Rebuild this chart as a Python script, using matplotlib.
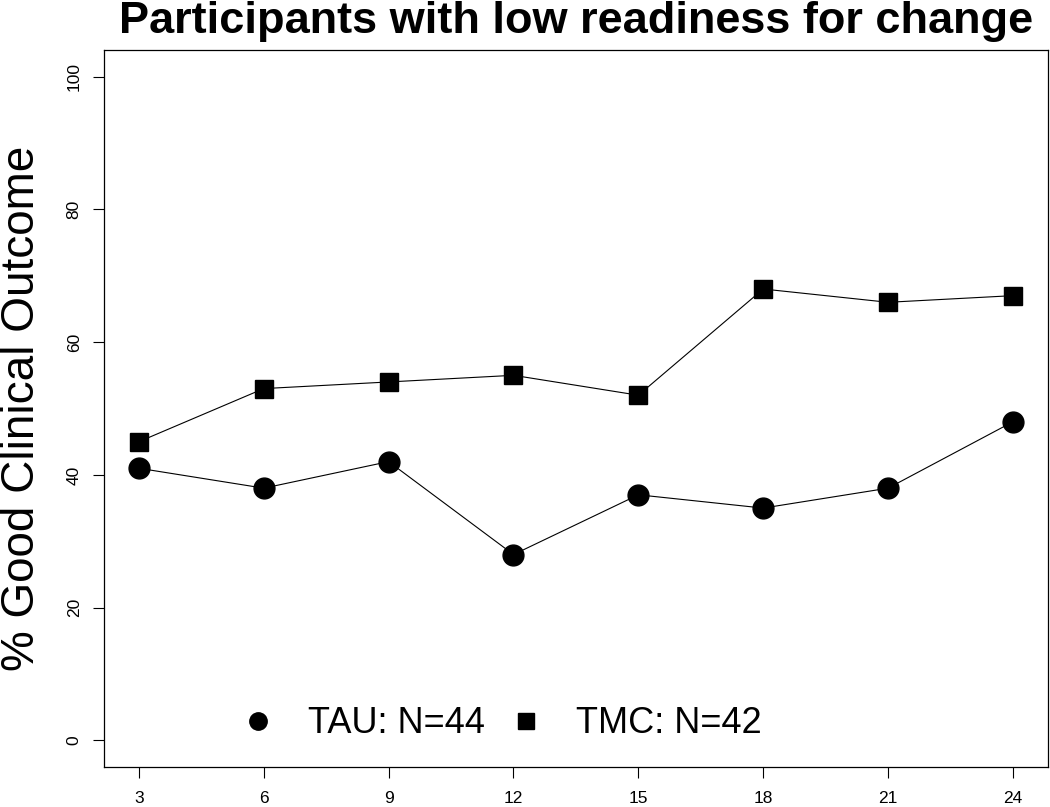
import matplotlib
matplotlib.use("Agg")
import matplotlib.pyplot as plt
from matplotlib.lines import Line2D

months = [3, 6, 9, 12, 15, 18, 21, 24]
tau = [41, 38, 42, 28, 37, 35, 38, 48]
tmc = [45, 53, 54, 55, 52, 68, 66, 67]
y_ticks = [0, 20, 40, 60, 80, 100]

plt.rcParams['font.family'] = ['Liberation Sans', 'DejaVu Sans']

fig = plt.figure(figsize=(10.5, 8.07), dpi=100)
ax = fig.add_axes([0.099, 0.0496, 0.899, 0.8884])

ax.plot(months, tau, color='black', lw=0.8, marker='o', ms=15)
ax.plot(months, tmc, color='black', lw=0.8, marker='s', ms=13.5)

ax.set_xlim(3 - 0.84, 24 + 0.84)
ax.set_ylim(-4, 104)
ax.set_xticks(months)
ax.set_yticks(y_ticks)
ax.tick_params(axis='both', length=8, width=0.8, labelsize=12.5, direction='out')
ax.tick_params(axis='x', pad=9)
ax.tick_params(axis='y', pad=8)
for lab in ax.get_yticklabels():
    lab.set_rotation(90)
    lab.set_va('center')
for s in ax.spines.values():
    s.set_linewidth(0.9)

ax.set_ylabel('% Good Clinical Outcome', fontsize=33)
ax.yaxis.set_label_coords(-0.063, 0.5)
ax.set_title('Participants with low readiness for change', fontsize=32.5, fontweight='bold', pad=12)

# legend without lines, smaller markers like R's legend()
handles = [Line2D([], [], ls='none', color='black', marker='o', ms=12.5),
           Line2D([], [], ls='none', color='black', marker='s', ms=11.5)]
ax.legend(handles, ['TAU: N=44', 'TMC: N=42'], loc='center', bbox_to_anchor=(0.4206, 0.06),
          ncol=2, frameon=False, fontsize=26, handlelength=1.0, handletextpad=0.89,
          columnspacing=0.64, borderpad=0)

fig.savefig('out.png', dpi=100)
